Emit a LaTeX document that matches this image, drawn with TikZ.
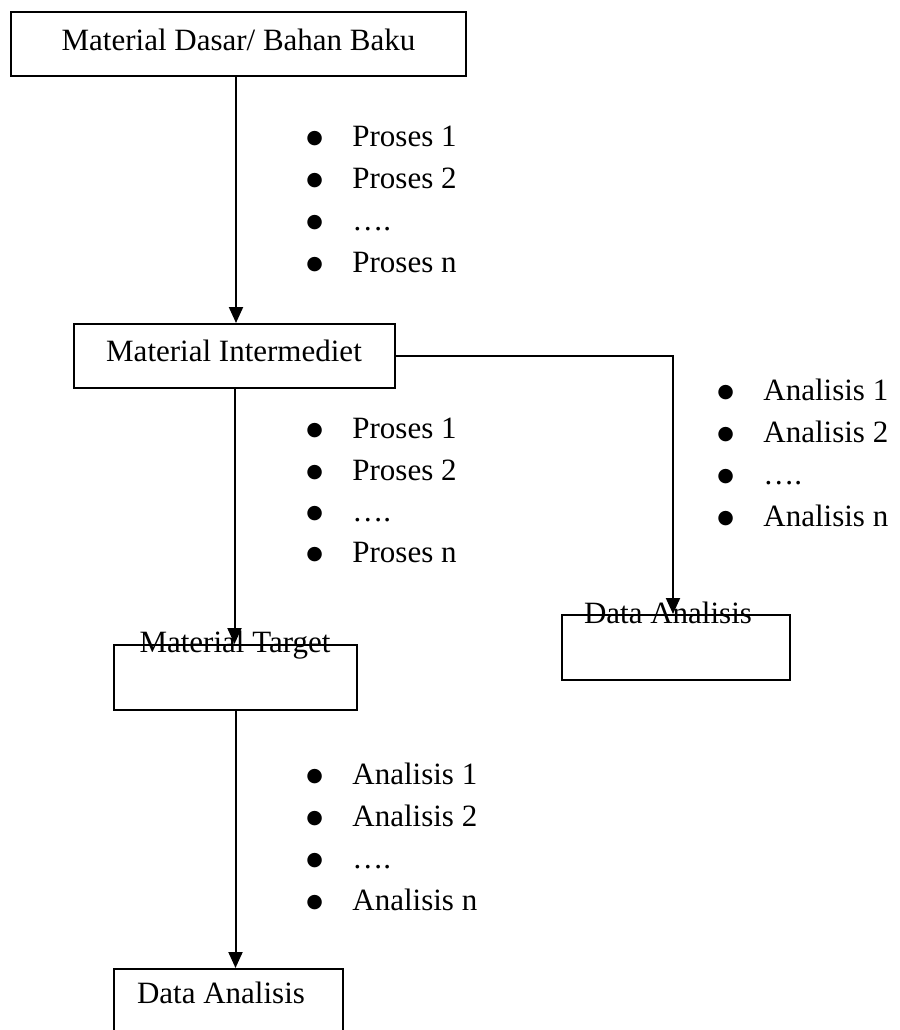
\documentclass[tikz,border=0pt]{standalone}
\usepackage{fontspec}
\setmainfont{Liberation Serif}
\newfontfamily\symfont{DejaVu Sans}
\usetikzlibrary{arrows.meta}
\newcommand\blt{\makebox[23pt][l]{\raisebox{1.5pt}{\symfont\fontsize{9.5}{9.5}\selectfont ●}}}
\begin{document}
\begin{tikzpicture}[x=0.5pt,y=-0.5pt,
  box/.style 2 args={draw=black, line width=1pt, inner sep=0pt, minimum width=#1, minimum height=#2},
  lbl/.style={inner sep=0pt, anchor=base, font=\fontsize{15.5}{18}\selectfont},
  item/.style={inner sep=0pt, anchor=base west, font=\fontsize{15.5}{18}\selectfont},
  arr/.style={line width=1pt, -{Triangle[length=8pt,width=7pt]}}]
\useasboundingbox (0,0) rectangle (900,1030);
\clip (0,0) rectangle (900,1030);

% boxes
\node[box={227.5pt}{32pt}] (b1) at (238.5,44) {};
\node[box={160.5pt}{32pt}] (b2) at (234.5,356) {};
\node[box={121.5pt}{32.5pt}] (b3) at (235.5,677.5) {};
\node[box={114pt}{32.5pt}] (b4) at (676,647.5) {};
\node[box={114.5pt}{32.5pt}] (b5) at (228.5,1001.5) {};

% box labels
\node[lbl] (t1) at (238.5,50) {Material Dasar/ Bahan Baku};
\node[lbl] (t2) at (234,361) {Material Intermediet};
\node[lbl] (t3) at (235,652) {Material Target};
\node[lbl] (t4) at (668,623) {Data Analisis};
\node[lbl] (t5) at (221,1003) {Data Analisis};

% connectors
\coordinate (c1) at (236,0);
\coordinate (c4) at (673,0);
\draw[arr] (c1 |- b1.south) -- (c1 |- b2.north);
\draw[arr] (b2.south) -- (b2.south |- b3.north);
\draw[arr] (b3.south) -- (b3.south |- b5.north);
\draw[arr] (b2.east) -| (c4 |- b4.north);

% list 1
\node[item] (p1a) at (306,146) {\blt Proses 1};
\node[item] (p1b) at (306,188) {\blt Proses 2};
\node[item] (p1c) at (306,230) {\blt ….};
\node[item] (p1d) at (306,272) {\blt Proses n};

% list 2
\node[item] (p2a) at (306,438) {\blt Proses 1};
\node[item] (p2b) at (306,480) {\blt Proses 2};
\node[item] (p2c) at (306,521) {\blt ….};
\node[item] (p2d) at (306,562) {\blt Proses n};

% list 3 (right)
\node[item] (a3a) at (717,400) {\blt Analisis 1};
\node[item] (a3b) at (717,442) {\blt Analisis 2};
\node[item] (a3c) at (717,484) {\blt ….};
\node[item] (a3d) at (717,526) {\blt Analisis n};

% list 4 (bottom)
\node[item] (a4a) at (306,784) {\blt Analisis 1};
\node[item] (a4b) at (306,826) {\blt Analisis 2};
\node[item] (a4c) at (306,868) {\blt ….};
\node[item] (a4d) at (306,910) {\blt Analisis n};
\end{tikzpicture}
\end{document}
